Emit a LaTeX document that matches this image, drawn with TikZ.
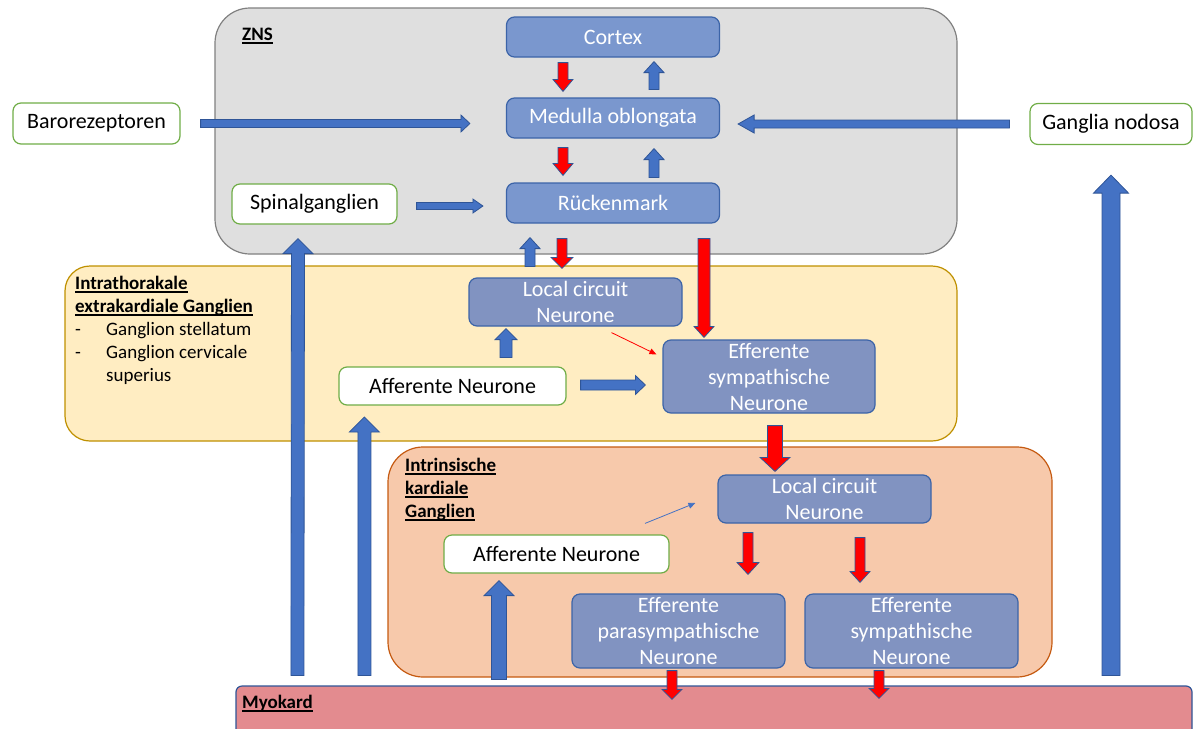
\documentclass[tikz,border=0pt]{standalone}
\usepackage{fontspec}
\setmainfont{Carlito}
\usetikzlibrary{calc,arrows.meta}

\definecolor{zfill}{HTML}{DFDFDF}
\definecolor{zline}{HTML}{808080}
\definecolor{yfill}{HTML}{FFEDC2}
\definecolor{yline}{HTML}{BF9000}
\definecolor{ofill}{HTML}{F7C9AB}
\definecolor{oline}{HTML}{C55A11}
\definecolor{myfill}{HTML}{E38B8F}
\definecolor{topblue}{HTML}{7A97CE}
\definecolor{midblue}{HTML}{8193C1}
\definecolor{boxline}{HTML}{3C64A8}
\definecolor{grn}{HTML}{70AD47}
\definecolor{arrblue}{HTML}{4472C4}
\definecolor{arrline}{HTML}{2F5597}

\newcommand{\uln}[1]{\setbox0=\hbox{#1}\leavevmode\rlap{\rule[-3.5pt]{\wd0}{1.2pt}}\box0}

\tikzset{
  region/.style={line width=1.2pt},
  blubox/.style={draw=boxline, line width=1.2pt, fill=topblue, rounded corners=8pt,
    text=white, inner sep=0pt, minimum width=213pt, minimum height=40pt,
    align=center, font=\fontsize{22}{26}\selectfont},
  midbox/.style={blubox, fill=midblue},
  grnbox/.style={draw=grn, line width=1.2pt, fill=white, rounded corners=8pt,
    inner sep=0pt, minimum height=41pt, font=\fontsize{22}{26}\selectfont},
  title/.style={anchor=base west, inner sep=0pt, align=left,
    font=\bfseries\fontsize{19}{23}\selectfont},
  listing/.style={anchor=base west, inner sep=0pt, align=left,
    font=\fontsize{19}{23}\selectfont},
  redarr/.style={fill=red, draw=arrline, line width=0.8pt},
  bluarr/.style={fill=arrblue, draw=arrline, line width=0.8pt},
  thinred/.style={draw=red, line width=0.8pt, -{Triangle[length=7pt,width=6pt]}},
  thinblue/.style={draw=arrblue, line width=0.8pt, -{Triangle[length=7pt,width=6pt]}},
}

% block arrow: [style]{from}{to}{half shaft}{half head}{head length}
\newcommand{\blockarrow}[6][]{%
  \coordinate (ba-s) at #2;
  \coordinate (ba-e) at #3;
  \coordinate (ba-c) at ($(ba-e)!#6pt!(ba-s)$);
  \filldraw[#1] ($(ba-s)!#4pt!90:(ba-e)$) -- ($(ba-c)!#4pt!90:(ba-e)$)
    -- ($(ba-c)!#5pt!90:(ba-e)$) -- (ba-e) -- ($(ba-c)!#5pt!-90:(ba-e)$)
    -- ($(ba-c)!#4pt!-90:(ba-e)$) -- ($(ba-s)!#4pt!-90:(ba-e)$) -- cycle;
}

\begin{document}
\begin{tikzpicture}[x=1pt,y=-1pt]
\useasboundingbox (0,0) rectangle (1193,728);
\clip (0,0) rectangle (1193,728);
%
\draw[region, fill=zfill, draw=zline, rounded corners=35pt] (215,8) rectangle (957,254);
\draw[region, fill=yfill, draw=yline, rounded corners=25pt] (65,266) rectangle (957,441);
\draw[region, fill=ofill, draw=oline, rounded corners=35pt] (388,447) rectangle (1052,677);
\node[region, draw=arrline, fill=myfill, rounded corners=6pt, minimum width=956pt,
  minimum height=54pt, inner sep=0pt] (myo) at (714,713) {};
%
\node[title] (znslbl) at (242,40) {\uln{ZNS}};
\node[title] (thxlbl) at (75,312) {\uln{Intrathorakale}\\\uln{extrakardiale Ganglien}};
\node[listing] (thxlist) at (75,381) {\makebox[31pt][l]{-}Ganglion stellatum\\
  \makebox[31pt][l]{-}Ganglion cervicale\\\hspace*{31pt}superius};
\node[title] (intlbl) at (405,517) {\uln{Intrinsische}\\\uln{kardiale}\\\uln{Ganglien}};
\node[title] (myolbl) at (242,708) {\uln{Myokard}};
%
\node[blubox] (cortex) at (613,37) {Cortex};
\node[blubox] (medulla) at (613,118) {Medulla oblongata};
\node[blubox] (rueck) at (613,203) {Rückenmark};
\node[grnbox, minimum width=167pt] (baro) at (96.5,123.5) {Barorezeptoren};
\node[grnbox, minimum width=162pt] (ganglia) at (1111,124) {Ganglia nodosa};
\node[grnbox, minimum width=165pt, minimum height=40pt] (spinal) at (314.5,204) {Spinalganglien};
\node[midbox, minimum height=48pt] (localT) at (575.5,302) {Local circuit\\Neurone};
\node[midbox, minimum width=212pt, minimum height=73pt] (effT) at (769,376.5) {Efferente\\sympathische\\Neurone};
\node[grnbox, minimum width=227pt, minimum height=38pt] (affT) at (452.5,386) {Afferente Neurone};
\node[midbox, minimum height=48pt] (localI) at (824.5,499) {Local circuit\\Neurone};
\node[grnbox, minimum width=225pt, minimum height=38pt] (affI) at (556.5,554) {Afferente Neurone};
\node[midbox, minimum height=74pt] (effP) at (678.5,631) {Efferente\\parasympathische\\Neurone};
\node[midbox, minimum height=74pt] (effS) at (911.5,631) {Efferente\\sympathische\\Neurone};
%
\blockarrow[redarr]{($(cortex.south)+(-50,5)$)}{($(medulla.north)+(-50,-6)$)}{5}{10}{12}
\blockarrow[bluarr]{($(medulla.north)+(41,-8)$)}{($(cortex.south)+(41,4)$)}{5}{10}{11}
\blockarrow[redarr]{($(medulla.south)+(-50,9)$)}{($(rueck.north)+(-50,-7)$)}{5}{10}{12}
\blockarrow[bluarr]{($(rueck.north)+(41,-5)$)}{($(medulla.south)+(41,10)$)}{5}{10}{11}
\blockarrow[bluarr]{($(baro.east)+(20,0)$)}{($(medulla.west)+(-36,5.5)$)}{4}{8.5}{9}
\blockarrow[bluarr]{($(ganglia.west)+(-20,0)$)}{($(medulla.east)+(18,6)$)}{4}{9}{16}
\blockarrow[bluarr]{($(spinal.east)+(19,2)$)}{($(rueck.west)+(-23,3)$)}{3.5}{7}{10}
%
\blockarrow[bluarr]{($(localT.north)+(-45.5,-11)$)}{($(rueck.south)+(-83,14)$)}{5}{10}{11}
\blockarrow[redarr]{($(rueck.south)+(-51,15)$)}{($(localT.north)+(-13.5,-9)$)}{5}{11}{11}
\blockarrow[redarr]{($(rueck.south)+(91,15)$)}{($(effT.north)+(-65,-2)$)}{6}{10}{11}
\blockarrow[bluarr]{($(affT.north)+(53.5,-9)$)}{($(localT.south)+(-69.5,2)$)}{6}{11}{11}
\blockarrow[bluarr]{($(affT.east)+(14,-1)$)}{($(effT.west)+(-17,8.5)$)}{5}{9.5}{10}
\draw[thinred] ($(localT.south)+(36,6)$) -- ($(effT.north west)+(-6,15)$);
%
\blockarrow[redarr]{($(effT.south)+(6,12)$)}{($(localI.north)+(-49.5,-3)$)}{7.5}{15}{14}
\blockarrow[redarr]{($(localI.south)+(-76.5,9)$)}{($(effP.north)+(69.5,-19)$)}{5}{11}{12}
\blockarrow[redarr]{($(localI.south)+(35.5,14)$)}{($(effS.north)+(-51.5,-11)$)}{5}{10}{11}
\draw[thinblue] ($(affI.north)+(88.5,-11)$) -- ($(localI.west)+(-22,4)$);
\blockarrow[redarr]{($(effP.south)+(-6.5,2)$)}{($(myo.north)+(-42,14)$)}{5}{10}{10}
\blockarrow[redarr]{($(effS.south)+(-32.5,2)$)}{($(myo.north)+(165,13)$)}{5}{10}{10}
%
\blockarrow[bluarr]{($(myo.north)+(-215,-6)$)}{($(affI.south)+(-57.5,7)$)}{7.5}{15}{15}
\blockarrow[bluarr]{($(myo.north west)+(62,-10)$)}{($(spinal.south)+(-16.5,14)$)}{6.5}{15}{15}
\blockarrow[bluarr]{($(myo.north west)+(129,-10)$)}{($(affT.west)+(26,31)$)}{6.5}{15}{15}
\blockarrow[bluarr]{($(myo.north)+(397,-10)$)}{($(ganglia.south)+(0,30)$)}{9}{17.5}{18}
\end{tikzpicture}
\end{document}
